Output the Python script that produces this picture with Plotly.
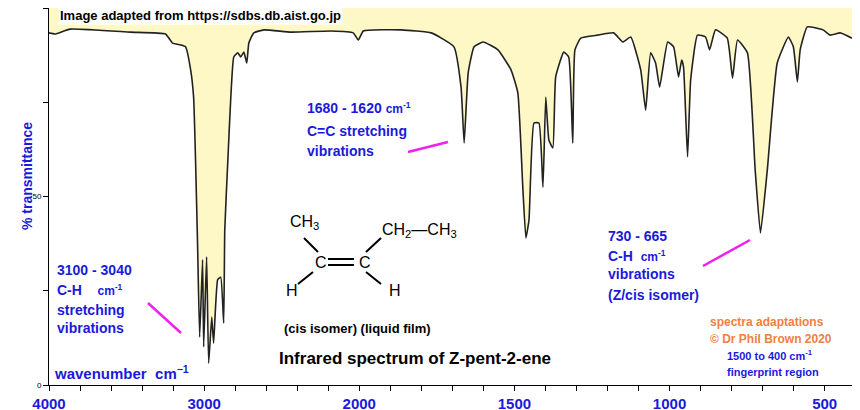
import plotly.graph_objects as go

wavenumber = [4000,3961,3864,3476,3249,3204,3152,3120,3087,3068,3055,3042,3029,3010,3003,2984,2971,2951,2939,2913,2893,2874,2867,2848,2828,2809,2783,2764,2744,2725,2712,2680,2615,2440,2181,2039,2006,1987,1865,1768,1695,1672,1662,1649,1630,1601,1553,1511,1489,1473,1463,1453,1437,1421,1408,1399,1389,1376,1367,1341,1325,1312,1305,1286,1232,1180,1151,1125,1093,1077,1061,1045,1032,1006,987,971,961,955,942,932,910,884,871,852,814,797,781,749,724,707,685,653,617,601,588,579,556,505,482,450,412]
transmittance = [93.4,93.1,94.4,93.6,93.1,90.7,90.2,89.7,83.6,76.4,58.9,36.6,12.7,33.2,10.1,34.0,5.8,18.0,11.1,27.9,28.6,16.4,41.1,58.9,76.4,87.0,88.1,87.0,88.3,85.4,90.7,93.4,94.2,93.6,93.9,93.4,91.5,93.9,94.2,93.4,89.7,79.0,64.2,82.8,89.7,91.0,88.9,83.6,77.5,52.5,39.0,43.8,69.5,69.5,52.5,76.4,65.0,62.9,81.7,88.3,87.0,64.2,88.9,92.0,92.8,93.4,91.0,92.3,83.6,72.9,88.1,85.4,79.0,91.0,89.7,81.7,86.2,84.4,60.5,80.9,92.8,92.3,88.9,94.2,92.0,81.4,91.5,88.1,57.0,40.3,57.0,85.4,92.3,89.7,80.4,88.9,95.0,94.2,92.8,93.4,92.0]
major_ticks = [4000,3000,2000,1500,1000,500]
minor_ticks = [3800,3600,3400,3200,2800,2600,2400,2200,1900,1800,1700,1600,1400,1300,1200,1100,900,800,700,600,400]
y_ticks = [0,25,50,75,100]
y_labels = ["0","","50","","100"]

def u(w):
    # IR double scale: 4000-2000 compressed by half
    return (4000-w)*0.5 if w >= 2000 else 1000 + (2000-w)

ux = [u(w) for w in wavenumber]
BLUE = "#1a1adb"
FONT = "Liberation Sans, Arial, sans-serif"
OFF = 8  # page offset of the figure in the browser

fig = go.Figure()
fig.add_trace(go.Scatter(x=ux, y=[100]*len(ux), mode="lines", line=dict(width=0), showlegend=False, hoverinfo="skip"))
fig.add_trace(go.Scatter(x=ux, y=transmittance, mode="lines", fill="tonexty", fillcolor="#fdf8c6",
                         line=dict(color="#222222", width=1.6, shape="spline", smoothing=0.4), showlegend=False))

tv = [u(w) for w in major_ticks] + [u(w) for w in minor_ticks]
tt = ["<b>%d</b>" % w for w in major_ticks] + [""]*len(minor_ticks)
L, R, T, B = 49, 852, 8, 385
W, H = 860-OFF, 410-OFF
fig.update_layout(
    width=W, height=H, margin=dict(l=L-OFF, r=W-(R-OFF), t=T-OFF, b=H-(B-OFF), autoexpand=False),
    paper_bgcolor="white", plot_bgcolor="white",
    xaxis=dict(range=[0, u(412)], tickvals=tv, ticktext=tt, ticks="outside", ticklen=5, automargin=False,
               tickcolor="black", showgrid=False, zeroline=False, showline=True, linecolor="black",
               mirror=True, tickfont=dict(family=FONT, size=15, color=BLUE)),
    yaxis=dict(range=[0, 100], tickvals=y_ticks, ticktext=y_labels, ticks="outside", ticklen=5, automargin=False,
               tickcolor="black", showgrid=False, zeroline=False, showline=True, linecolor="black",
               mirror=True, tickfont=dict(family=FONT, size=8, color="black")),
    font=dict(family=FONT),
)

def px(x): return (x-L)/(R-L)
def py(y): return (B-y)/(B-T)

def txt(x, y, s, size=14, color=BLUE, bold=True, bg=None, anchor="left", yanchor="middle"):
    fig.add_annotation(x=px(x), y=py(y), xref="paper", yref="paper", text=("<b>%s</b>" % s) if bold else s,
                       showarrow=False, xanchor=anchor, yanchor=yanchor,
                       font=dict(family=FONT, size=size, color=color), bgcolor=bg)

def line(x0, y0, x1, y1, color="black", width=2):
    fig.add_shape(type="line", xref="paper", yref="paper", x0=px(x0), y0=py(y0), x1=px(x1), y1=py(y1),
                  line=dict(color=color, width=width))

txt(58, 6, "Image adapted from https://sdbs.db.aist.go.jp", size=13, color="black", bg="white", yanchor="top")
fig.add_annotation(x=px(17), y=py(120), xref="paper", yref="paper", text="<b>% transmittance</b>", textangle=-90,
                   showarrow=False, font=dict(family=FONT, size=14, color=BLUE))
txt(305, 108, "1680 - 1620 <span style='font-size:12px'>cm<sup>-1</sup></span>")
txt(305, 131, "C=C stretching")
txt(305, 151, "vibrations")
line(408, 152, 448, 142, "#ee22ee", 2.5)
txt(55, 270, "3100 - 3040")
txt(55, 290, "C-H    <span style='font-size:12px'>cm<sup>-1</sup></span>")
txt(55, 310, "stretching")
txt(55, 328, "vibrations")
line(148, 303, 181, 333, "#ee22ee", 2.5)
txt(52, 372, "wavenumber  cm<sup>−1</sup>", size=15)
txt(606, 236, "730 - 665")
txt(606, 256, "C-H  <span style='font-size:12px'>cm<sup>-1</sup></span>")
txt(606, 274, "vibrations")
txt(606, 295, "(Z/cis isomer)")
line(703, 266, 750, 240, "#ee22ee", 2.5)
txt(708, 322, "spectra adaptations", size=12, color="#f08040")
txt(708, 339, "© Dr Phil Brown 2020", size=12, color="#f08040")
txt(725, 355, "1500 to 400 cm<sup>-1</sup>", size=11)
txt(725, 372, "fingerprint region", size=11)
# structure
txt(288, 222, "CH<sub>3</sub>", size=16, color="black", bold=False)
txt(380, 230, "CH<sub>2</sub>—CH<sub>3</sub>", size=16, color="black", bold=False)
txt(313, 262, "C", size=16, color="black", bold=False)
txt(357, 262, "C", size=16, color="black", bold=False)
txt(284, 290, "H", size=16, color="black", bold=False)
txt(387, 290, "H", size=16, color="black", bold=False)
line(328, 259, 354, 259); line(328, 265, 354, 265)
line(304, 238, 318, 252); line(313, 272, 298, 284)
line(366, 252, 381, 238); line(366, 272, 381, 284)
txt(282, 328, "(cis isomer) (liquid film)", size=13, color="black")
txt(277, 358, "Infrared spectrum of Z-pent-2-ene", size=17, color="black")

fig.write_html("out.html")
